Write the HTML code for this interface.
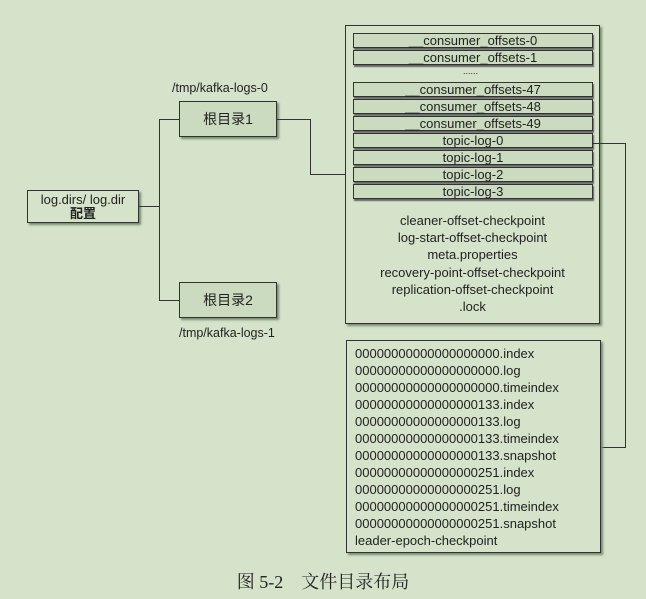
<!DOCTYPE html>
<html><head><meta charset="utf-8"><style>
body{margin:0;width:646px;height:599px;background:#d4e3ca;position:relative;overflow:hidden;font-family:"Liberation Sans","Noto Sans CJK SC",sans-serif;color:#222}
.b{position:absolute;border:1px solid #333;box-sizing:border-box;box-shadow:2px 2px 2px #7a8a70}
.r{position:absolute;left:353px;width:240px;height:15px;border:1px solid #333;box-sizing:border-box;background:#cadbbf;font-size:13px;line-height:13px;text-align:center;box-shadow:1px 2px 1px #666}
.t{position:absolute;font-size:12.5px;white-space:nowrap}
.l{position:absolute;background:#333}
.f{position:absolute;left:355px;font-size:13px;white-space:nowrap;line-height:17px}
</style></head><body>
<div class="b" style="left:345px;top:25px;width:255px;height:299px"></div>
<div class="r" style="top:33px">__consumer_offsets-0</div>
<div class="r" style="top:50px">__consumer_offsets-1</div>
<div class="t" style="left:463px;top:66px;font-size:9px">......</div>
<div class="r" style="top:82px">__consumer_offsets-47</div>
<div class="r" style="top:99px">__consumer_offsets-48</div>
<div class="r" style="top:116px">__consumer_offsets-49</div>
<div class="r" style="top:133px">topic-log-0</div>
<div class="r" style="top:150px">topic-log-1</div>
<div class="r" style="top:167px">topic-log-2</div>
<div class="r" style="top:184px">topic-log-3</div>
<div style="position:absolute;left:345px;width:255px;top:212px;text-align:center;font-size:13px;line-height:17.2px">cleaner-offset-checkpoint<br>log-start-offset-checkpoint<br>meta.properties<br>recovery-point-offset-checkpoint<br>replication-offset-checkpoint<br>.lock</div>

<div class="b" style="left:27px;top:190px;width:112px;height:33px;background:#d4e3ca;text-align:center;font-size:13px;line-height:14px;padding-top:2px">log.dirs/ log.dir<br><b>配置</b></div>
<div class="b" style="left:179px;top:101px;width:98px;height:36px;background:#cadbbf;text-align:center;font-size:14px;line-height:34px">根目录1</div>
<div class="b" style="left:179px;top:282px;width:98px;height:36px;background:#cadbbf;text-align:center;font-size:14px;line-height:34px">根目录2</div>
<div class="t" style="left:172px;top:81px">/tmp/kafka-logs-0</div>
<div class="t" style="left:179px;top:326px">/tmp/kafka-logs-1</div>

<div class="l" style="left:139px;top:206px;width:20px;height:1px"></div>
<div class="l" style="left:159px;top:119px;width:1px;height:182px"></div>
<div class="l" style="left:159px;top:119px;width:20px;height:1px"></div>
<div class="l" style="left:159px;top:300px;width:20px;height:1px"></div>
<div class="l" style="left:277px;top:119px;width:33px;height:1px"></div>
<div class="l" style="left:310px;top:119px;width:1px;height:55px"></div>
<div class="l" style="left:310px;top:174px;width:35px;height:1px"></div>
<div class="l" style="left:593px;top:143px;width:32px;height:1px"></div>
<div class="l" style="left:625px;top:143px;width:1px;height:304px"></div>
<div class="l" style="left:600px;top:447px;width:26px;height:1px"></div>

<div class="b" style="left:346px;top:340px;width:255px;height:213px;background:#d4e3ca"></div>
<div class="f" style="top:345px">00000000000000000000.index<br>00000000000000000000.log<br>00000000000000000000.timeindex<br>00000000000000000133.index<br>00000000000000000133.log<br>00000000000000000133.timeindex<br>00000000000000000133.snapshot<br>00000000000000000251.index<br>00000000000000000251.log<br>00000000000000000251.timeindex<br>00000000000000000251.snapshot<br>leader-epoch-checkpoint</div>

<div style="position:absolute;left:0;width:646px;top:568px;text-align:center;font-family:'Liberation Serif','Noto Serif CJK SC',serif;font-size:18px">图 5-2&nbsp;&nbsp;&nbsp; 文件目录布局</div>
</body></html>
